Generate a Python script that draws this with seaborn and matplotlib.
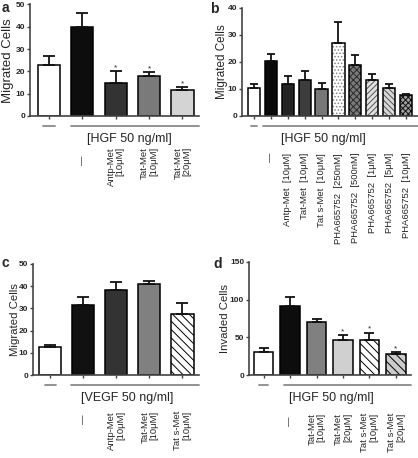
import numpy as np
import pandas as pd
import matplotlib
matplotlib.use('Agg')
import matplotlib.pyplot as plt
import matplotlib.transforms as mtransforms
from matplotlib.patches import Rectangle
import seaborn as sns

# ---- data ----
# panel a
a_labels = ['', '—', 'Antp-Met\n[10μM]', 'Tat-Met\n[10μM]', 'Tat-Met\n[20μM]']
a_values = [23, 40, 15, 18, 11.5]
a_errors = [4, 6.3, 5, 1.7, 1.3]
a_stars = [0, 0, 1, 1, 1]
a_colors = ['#ffffff', '#0d0d0d', '#333333', '#7a7a7a', '#d4d4d4']
a_hatch = [None] * 5

# panel b
b_labels = ['', '—', 'Antp-Met  [10μM]', 'Tat-Met  [10μM]', 'Tat s-Met  [10μM]',
            'PHA665752  [250nM]', 'PHA665752  [500nM]', 'PHA665752  [1μM]',
            'PHA665752  [5μM]', 'PHA665752  [10μM]']
b_values = [10.5, 20.5, 12, 13.5, 10, 27, 19, 13.5, 10.3, 7.6]
b_errors = [1.3, 2.6, 2.8, 3.3, 2.3, 7.7, 3.7, 2, 1.7, 0.5]
b_stars = [0] * 10
b_colors = ['#ffffff', '#0a0a0a', '#242424', '#3c3c3c', '#777777',
            '#ffffff', '#7a7a7a', '#e0e0e0', '#d8d8d8', '#a0a0a0']
b_hatch = [None, None, None, None, None,
           ('.....', '#888888'), ('xxxxx', '#2a2a2a'), ('//////', '#555555'),
           ('\\\\\\\\\\\\', '#555555'), ('xxxxxx', '#111111')]

# panel c
c_labels = ['', '—', 'Antp-Met\n[10μM]', 'Tat-Met\n[10μM]', 'Tat s-Met\n[10μM]']
c_values = [12.5, 31.5, 38.5, 41, 27.5]
c_errors = [0.8, 3.5, 3.5, 1.3, 5]
c_stars = [0] * 5
c_colors = ['#ffffff', '#111111', '#333333', '#808080', '#ffffff']
c_hatch = [None, None, None, None, ('\\\\\\\\', '#000000')]

# panel d
d_labels = ['', '—', 'Tat-Met\n[10μM]', 'Tat-Met\n[20μM]', 'Tat s-Met\n[10μM]', 'Tat s-Met\n[20μM]']
d_values = [30, 92, 70, 46, 47, 28]
d_errors = [6, 11, 5, 7, 9, 2]
d_stars = [0, 0, 0, 1, 1, 1]
d_colors = ['#ffffff', '#0d0d0d', '#808080', '#d0d0d0', '#ffffff', '#cccccc']
d_hatch = [None, None, None, None, ('\\\\\\\\', '#000000'), ('\\\\\\\\', '#000000')]

sns.set_style('ticks')
plt.rcParams['font.family'] = ['Liberation Sans', 'DejaVu Sans']
plt.rcParams['hatch.linewidth'] = 0.7

W, H = 418, 458
fig = plt.figure(figsize=(W / 100, H / 100), dpi=100)


def below(ax, px):
    base = mtransforms.blended_transform_factory(ax.transData, ax.transAxes)
    return base + mtransforms.ScaledTranslation(0, -px / 100, fig.dpi_scale_trans)


def panel(box, labels, values, errors, stars, colors, hatches, width, ylim, yticks,
          ylabel, ylab_px, xlim, cond_text, cond_x, line_start, lab_off, dash_off,
          label_fs, ylab_fs, capsize):
    l, t, r, b = box
    ax = fig.add_axes([l / W, 1 - b / H, (r - l) / W, (b - t) / H])
    keys = [f'{i}:{s}' for i, s in enumerate(labels)]
    df = pd.DataFrame({'cond': keys, 'val': values})
    sns.barplot(data=df, x='cond', y='val', hue='cond', order=keys, hue_order=keys,
                palette=colors, legend=False, width=width, errorbar=None,
                edgecolor='black', linewidth=1.1, ax=ax)
    n = len(values)
    for p, h in zip(list(ax.patches)[:n], hatches):
        if h is not None:
            p.set_hatch(h[0])
            p.set_edgecolor(h[1])
            p.set_linewidth(0)
            ax.add_patch(Rectangle(p.get_xy(), p.get_width(), p.get_height(),
                                   fill=False, edgecolor='black', lw=1.1,
                                   zorder=p.get_zorder() + 0.1))
    ax.errorbar(range(n), values, yerr=[np.zeros(n), errors], fmt='none',
                ecolor='#111111', elinewidth=1.3, capsize=capsize, capthick=1.3, zorder=3)
    for i in range(n):
        if stars[i]:
            ax.annotate('*', xy=(i, values[i] + errors[i]), xytext=(0, 0),
                        textcoords='offset points', ha='center', va='bottom', fontsize=6)
    ax.set_xlim(*xlim)
    ax.set_ylim(*ylim)
    ax.set_yticks(yticks)
    ax.set_xticks(range(n))
    ax.set_xticklabels([])
    ax.set_xlabel('')
    ax.set_ylabel(ylabel, fontsize=ylab_fs)
    ax.yaxis.set_label_coords(-ylab_px / (r - l), 0.5)
    for lab in ax.get_yticklabels():
        lab.set_fontweight('bold')
        lab.set_fontsize(6)
    ax.tick_params(axis='both', length=2.5, width=1, color='#444444', pad=1)
    sns.despine(ax=ax)
    for s in ['left', 'bottom']:
        ax.spines[s].set_color('#444444')
        ax.spines[s].set_linewidth(1.2)
    # condition brackets under the axis
    ax.plot([-0.17, 0.17], [0, 0], color='#8a8a8a', lw=1.3, clip_on=False,
            transform=below(ax, 10))
    ax.plot([line_start, xlim[1]], [0, 0], color='#8a8a8a', lw=1.3, clip_on=False,
            transform=below(ax, 10))
    ax.text(cond_x, 0, cond_text, transform=below(ax, 23), ha='center', va='center',
            fontsize=9)
    for i, s in enumerate(labels):
        if not s:
            continue
        off = lab_off + (dash_off if s == '—' else 0)
        ax.text(i, 0, s, transform=below(ax, off), rotation=90, ha='center', va='top',
                multialignment='right', fontsize=label_fs, linespacing=1.0)
    return ax


panel((30, 4.5, 199, 116), a_labels, a_values, a_errors, a_stars, a_colors, a_hatch,
      0.67, (0, 50), range(0, 51, 10), 'Migrated Cells', 16, (-0.57, 4.5),
      '[HGF 50 ng/ml]', 2.42, 0.65, 31, 9, 6.8, 9.5, 4.2)
panel((242, 8, 418, 116), b_labels, b_values, b_errors, b_stars, b_colors, b_hatch,
      0.72, (0, 40), range(0, 41, 10), 'Migrated Cells', 14, (-0.7, 9.7),
      '[HGF 50 ng/ml]', 4.1, 0.53, 37, 0, 6.8, 8.4, 2.8)
panel((33, 264, 199, 375), c_labels, c_values, c_errors, c_stars, c_colors, c_hatch,
      0.67, (0, 50), range(0, 51, 10), 'Migrated Cells', 13, (-0.52, 4.5),
      '[VEGF 50 ng/ml]', 2.33, 0.64, 36, 3, 6.8, 8.2, 4.2)
panel((249, 262, 411, 375), d_labels, d_values, d_errors, d_stars, d_colors, d_hatch,
      0.73, (0, 150), range(0, 151, 50), 'Invaded Cells', 19, (-0.55, 5.57),
      '[HGF 50 ng/ml]', 2.55, 0.77, 38, 3, 6.8, 8.2, 3.8)

for letter, x, y in [('a', 5, 8), ('b', 214, 9), ('c', 5, 263), ('d', 218, 264)]:
    fig.text(x / W, 1 - y / H, letter, ha='center', va='center', fontsize=10,
             fontweight='bold')

fig.savefig('out.png', dpi=100)
